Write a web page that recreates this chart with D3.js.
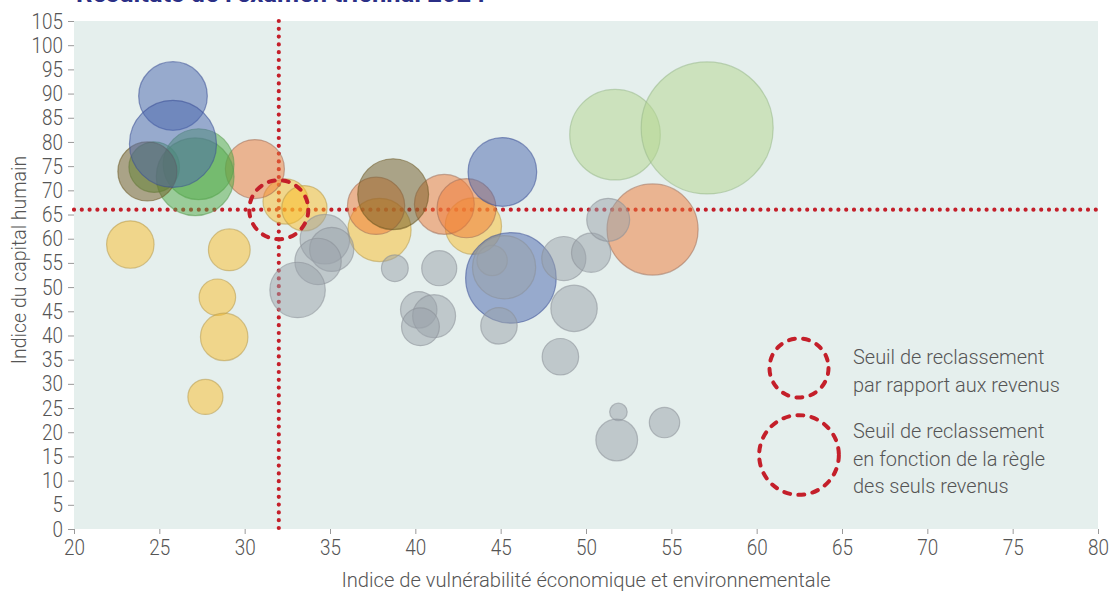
<!DOCTYPE html>
<html><head><meta charset="utf-8">
<script src="https://cdn.jsdelivr.net/npm/d3@7"></script>
<style>
body{margin:0;background:#fff;}
svg{display:block;font-family:Roboto,"Noto Sans",sans-serif;font-weight:300;}
</style>
</head><body>
<svg id="chart" width="1116" height="593"></svg>
<script>
// ---------- data ----------
const titleText = "Résultats de l’examen triennal 2024";
const xTitle = "Indice de vulnérabilité économique et environnementale";
const yTitle = "Indice du capital humain";
const xTickValues = [20,25,30,35,40,45,50,55,60,65,70,75,80];
const yTickValues = [0,5,10,15,20,25,30,35,40,45,50,55,60,65,70,75,80,85,90,95,100,105];
const incomeThresholdX = 32;   // vertical dotted line (IVE)
const incomeThresholdY = 66;   // horizontal dotted line (ICH)
const thresholdSizes = [34, 62];   // size values of the two dashed threshold circles
const legendLines = [
  ["Seuil de reclassement", "par rapport aux revenus"],
  ["Seuil de reclassement", "en fonction de la règle", "des seuls revenus"]
];
// [IVE, ICH, size]
const yellowBubbles = [[23.3,58.8,22],[29.1,57.7,17],[28.4,47.9,13],[28.8,39.7,22],[27.7,27.3,12],
  [32.4,67.7,20],[33.5,66.3,20],[37.9,61.8,39],[43.4,62.6,31]];
const orangeBubbles = [[30.6,74.4,34],[37.7,66.8,32],[41.7,67.1,35],[43.0,66.3,34],[53.9,61.9,81]];
const lightGreenBubbles = [[51.7,81.5,80],[57.1,82.9,170]];
const greenBubbles = [[24.7,74.8,25],[27.3,75.4,49],[27.1,72.8,59]];
const oliveBubbles = [[24.3,73.9,34],[38.7,69.2,49]];
const blueBubbles = [[25.8,89.5,46],[25.8,79.6,74],[45.1,73.8,46],[45.6,51.9,80]];
const grayBubbles = [[34.7,59.9,24],[35.1,57.8,19],[34.3,55.3,21],[33.1,49.4,30],[38.8,53.9,7],
  [41.4,53.9,12],[40.2,45.3,13],[41.1,44.0,18],[40.3,41.8,14],[44.9,42.0,13],[44.5,55.5,9],
  [45.2,54.1,39],[48.7,55.9,19],[50.3,57.1,15],[51.3,63.9,18],[49.3,45.6,21],[48.5,35.6,13],
  [51.9,24.2,3],[51.8,18.4,17],[54.6,22.0,9]];

// ---------- styles ----------
const layers = [
  {data: yellowBubbles, fill: "#fbbd2a", stroke: "#b89a4a"},
  {data: orangeBubbles, fill: "#f07a35", stroke: "#a0705a"},
  {data: lightGreenBubbles, fill: "#b3d58e", stroke: "#98b888"},
  {data: greenBubbles, fill: "#4faa45", stroke: "#5a9a50"},
  {data: oliveBubbles, fill: "#6f5721", stroke: "#6a5520"},
  {data: blueBubbles, fill: "#4a66ad", stroke: "#3a4f95"},
  {data: grayBubbles, fill: "#9aa1aa", stroke: "#8a9098"}
];
const red = "#c41f2a";

const W = 1116, H = 593;
const margin = {left: 74, right: 18, top: 21, bottom: 64};
const svg = d3.select("#chart");

const x = d3.scaleLinear().domain([20, 80]).range([margin.left, W - margin.right]);
const y = d3.scaleLinear().domain([0, 105]).range([H - margin.bottom, margin.top]);
const r = d3.scaleSqrt().domain([0, 170]).range([0, 66]);

function squeeze(sx) {
  return sel => sel.each(function() {
    const t = d3.select(this);
    const tx = +t.attr("x") || 0, ty = +t.attr("y") || 0;
    t.attr("x", 0).attr("y", 0).attr("transform", `translate(${tx},${ty}) scale(${sx},1)`);
  });
}

// title (clipped at top, as in the source)
svg.append("text").attr("x", 76).attr("y", 2)
  .attr("font-size", 25.5).attr("font-weight", 700).attr("fill", "#2b2f86")
  .text(titleText);

// background
svg.append("rect").attr("x", x(20)).attr("y", y(105))
  .attr("width", x(80) - x(20)).attr("height", y(0) - y(105)).attr("fill", "#e5efed");

// axes
const xAxis = svg.append("g").attr("transform", `translate(0,${y(0)})`)
  .call(d3.axisBottom(x).tickValues(xTickValues).tickSize(5).tickPadding(5));
const yAxis = svg.append("g").attr("transform", `translate(${x(20)},0)`)
  .call(d3.axisLeft(y).tickValues(yTickValues).tickSize(6).tickPadding(5));
[xAxis, yAxis].forEach(g => {
  g.select(".domain").remove();
  g.selectAll(".tick line").attr("stroke", "#999");
  g.selectAll(".tick text").attr("fill", "#555").attr("font-size", 22)
    .attr("font-family", "Roboto, sans-serif").attr("font-weight", 300).call(squeeze(0.86));
});

// axis titles
svg.append("text").attr("x", (x(20) + x(80)) / 2).attr("y", 587)
  .attr("text-anchor", "middle").attr("font-size", 21).attr("fill", "#555")
  .text(xTitle).call(squeeze(0.96));
svg.append("text")
  .attr("transform", `translate(26,260) rotate(-90) scale(0.93,1)`)
  .attr("text-anchor", "middle").attr("font-size", 21).attr("fill", "#555")
  .text(yTitle);

// threshold dotted lines (under bubbles)
const dotted = {stroke: red, "stroke-width": 4.2, "stroke-dasharray": "0,7.8", "stroke-linecap": "round"};
const vline = svg.append("line").attr("x1", x(incomeThresholdX)).attr("x2", x(incomeThresholdX))
  .attr("y1", y(105)).attr("y2", y(0));
const hline = svg.append("line").attr("x1", x(20)).attr("x2", x(80))
  .attr("y1", y(incomeThresholdY)).attr("y2", y(incomeThresholdY));
[vline, hline].forEach(l => Object.entries(dotted).forEach(([k, v]) => l.attr(k, v)));

// bubbles
layers.forEach(L => {
  svg.append("g").selectAll("circle").data(L.data).join("circle")
    .attr("cx", d => x(d[0])).attr("cy", d => y(d[1])).attr("r", d => r(d[2]))
    .attr("fill", L.fill).attr("fill-opacity", 0.5)
    .attr("stroke", L.stroke).attr("stroke-opacity", 0.55).attr("stroke-width", 1.2);
});

// dashed threshold circle at intersection
const dashed = {fill: "none", stroke: red, "stroke-width": 4, "stroke-dasharray": "6,8.3", "stroke-linecap": "round"};
const tc = svg.append("circle").attr("cx", x(incomeThresholdX)).attr("cy", y(incomeThresholdY))
  .attr("r", r(thresholdSizes[0]));
Object.entries(dashed).forEach(([k, v]) => tc.attr(k, v));

// legend
const legendCenters = [[799, 368], [799, 455]];
const legendTextY = [364, 438];
legendLines.forEach((lines, i) => {
  const c = svg.append("circle").attr("cx", legendCenters[i][0]).attr("cy", legendCenters[i][1])
    .attr("r", r(thresholdSizes[i]));
  Object.entries(dashed).forEach(([k, v]) => c.attr(k, v));
  lines.forEach((s, j) => {
    svg.append("text").attr("x", 853).attr("y", legendTextY[i] + j * 27.6)
      .attr("font-size", 21).attr("fill", "#555").text(s).call(squeeze(0.95));
  });
});
</script>
</body></html>
